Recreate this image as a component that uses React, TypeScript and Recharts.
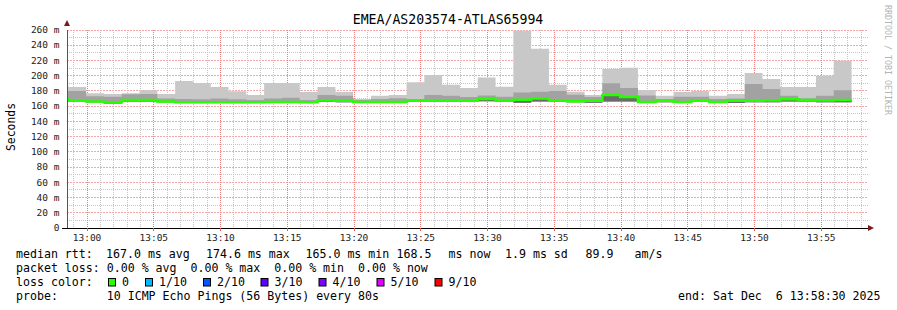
import { ComposedChart, Area, Line, XAxis, YAxis, CartesianGrid } from "recharts";

// one slot per 80 s probe round; the first entry is the cut-off round at the left edge
const maxRtt = [
  192, 185, 177, 176, 177, 181, 176, 193, 190.5, 185, 179.5, 174.5, 190.5, 190.5, 178.5,
  185, 178.5, 169.5, 173.5, 174.5, 191.5, 201, 188, 184, 197.5, 185.5, 259, 235.5, 188,
  179, 174.5, 209, 210.5, 181, 173.5, 178.5, 180, 173.5, 176, 203.5, 195.5, 185, 185, 200,
  219.5,
];
const upperRtt = [
  180, 180, 173, 172.5, 175.5, 176, 170, 169.5, 169, 170, 169, 168, 170, 171, 168,
  174.5, 173.5, 168, 169.5, 170.5, 169.5, 174.5, 173.5, 172, 174, 172.5, 178, 179, 180,
  175, 172, 190, 184, 174, 169.5, 172.5, 172.5, 169.5, 170, 189, 182.5, 173.5, 170.5, 173.5,
  181,
];
const medianRtt = [
  169, 167, 166, 165, 168, 168, 166, 165, 165, 165, 165, 165, 165.5, 165.5, 165,
  167.5, 167, 165.5, 165.5, 165.5, 167, 167, 167, 167, 169.5, 167.5, 168.5, 170, 167.5,
  166.5, 167, 174.5, 172, 165.5, 167, 165.5, 167, 165.5, 167, 167, 167.5, 169, 168, 167.5,
  168,
];
const minRtt = [
  166, 165.5, 165, 163.5, 166, 166, 165, 164, 164, 164, 164, 164, 164.5, 164.5, 164,
  165.5, 165, 165, 164.5, 164.5, 165.5, 165.5, 165.5, 165.5, 166.5, 166, 164.5, 166, 166,
  165, 164.5, 166, 166, 164, 165, 164.5, 165.5, 164.5, 164, 165, 165, 166, 166, 165,
  165,
];

const yTicks = [0, 20, 40, 60, 80, 100, 120, 140, 160, 180, 200, 220, 240, 260];
const yMinor = [10, 30, 50, 70, 90, 110, 130, 150, 170, 190, 210, 230, 250];
const timeLabels = ["13:00", "13:05", "13:10", "13:15", "13:20", "13:25", "13:30", "13:35", "13:40", "13:45", "13:50", "13:55"];

// summary line under the graph, each piece at its own x
const rttSummary = [
  { text: "median rtt:", x: 16 },
  { text: "167.0 ms avg", x: 106 },
  { text: "174.6 ms max", x: 206 },
  { text: "165.0 ms min", x: 305.5 },
  { text: "168.5", x: 396.5 },
  { text: "ms now", x: 448.5 },
  { text: "1.9 ms sd", x: 505 },
  { text: "89.9", x: 585.5 },
  { text: "am/s", x: 634.5 },
];

const lossColors = [
  { label: "0", color: "#26ff00", x: 108.5 },
  { label: "1/10", color: "#00b8ff", x: 145.5 },
  { label: "2/10", color: "#0059ff", x: 203.5 },
  { label: "3/10", color: "#5e00ff", x: 261 },
  { label: "4/10", color: "#7e00ff", x: 319 },
  { label: "5/10", color: "#dd00ff", x: 377 },
  { label: "9/10", color: "#ff0000", x: 435 },
];

// seconds since 12:58:30 (left edge of the graph)
const SPAN = 3600;
const FIRST_ROUND = 6;
const ROUND = 80;
const START_SEC = 12 * 3600 + 58 * 60 + 30;

const slotTime = (i: number) => (i === 0 ? 0 : FIRST_ROUND + (i - 1) * ROUND);

const rows = maxRtt.map((mx, i) => ({
  t: slotTime(i),
  outer: [minRtt[i], mx],
  middle: [minRtt[i], upperRtt[i]],
  inner: [minRtt[i], medianRtt[i]],
  median: medianRtt[i],
}));
const last = rows[rows.length - 1];
rows.push({ ...last, t: slotTime(rows.length) });

const majorX = timeLabels.map((_, i) => 90 + i * 300);
const minuteX = Array.from({ length: 60 }, (_, i) => 30 + i * 60).filter((t) => (t - 90) % 300 !== 0);

const fmtTime = (t: number) => {
  const s = START_SEC + t;
  const h = Math.floor(s / 3600);
  const m = Math.floor((s % 3600) / 60);
  return `${h}:${String(m).padStart(2, "0")}`;
};

const MONO = "'DejaVu Sans Mono', monospace";
const MINOR = "#c6c6c6";
const MAJOR = "#e98080";
const MAJOR_H = "#f3a9a9";

const gridLine = (color: string, dash: string) => (p: any) => (
  <line
    key={`${p.x1}-${p.y1}-${p.x2}-${p.y2}`}
    x1={p.x1}
    x2={p.x2}
    y1={p.y1}
    y2={p.y2}
    stroke={color}
    strokeDasharray={dash}
    shapeRendering="crispEdges"
  />
);

function TimeTick(props: any) {
  const { x, y, payload } = props;
  return (
    <g>
      <line x1={x} x2={x} y1={y} y2={y + 3} stroke="#e06060" shapeRendering="crispEdges" />
      <text x={x} y={y + 12.7} textAnchor="middle" fontFamily={MONO} fontSize={9.5} fill="#222">
        {fmtTime(payload.value)}
      </text>
    </g>
  );
}

function ValueTick(props: any) {
  const { x, y, payload } = props;
  return (
    <text x={x - 7.5} y={y + 3.2} textAnchor="end" fontFamily={MONO} fontSize={9.5} fill="#222">
      {payload.value === 0 ? "0" : `${payload.value} m`}
    </text>
  );
}

const pre = { whiteSpace: "pre" as const };

export default function App() {
  return (
    <div style={{ position: "absolute", left: 0, top: 0, width: 897, height: 310, background: "#fff" }}>
      <ComposedChart
        width={897}
        height={310}
        data={rows}
        margin={{ top: 30, right: 29, bottom: 0, left: 0 }}
      >
        <CartesianGrid
          verticalValues={minuteX}
          horizontalValues={yMinor}
          horizontal={gridLine(MINOR, "1 1")}
          vertical={gridLine(MINOR, "1 1")}
        />
        <CartesianGrid
          verticalValues={majorX}
          horizontalValues={yTicks.slice(1)}
          horizontal={gridLine(MAJOR_H, "2 1")}
          vertical={gridLine(MAJOR, "1 1")}
        />
        <XAxis
          dataKey="t"
          type="number"
          domain={[0, SPAN]}
          ticks={majorX}
          interval={0}
          height={82}
          tickSize={0}
          tickMargin={0}
          tick={<TimeTick />}
          axisLine={{ stroke: "#000", shapeRendering: "crispEdges" }}
          allowDataOverflow
        />
        <YAxis
          type="number"
          domain={[0, 260]}
          ticks={yTicks}
          interval={0}
          width={67}
          tickSize={0}
          tickMargin={0}
          tick={<ValueTick />}
          axisLine={{ stroke: "#555", shapeRendering: "crispEdges" }}
          allowDataOverflow
        />
        <Area dataKey="outer" type="stepAfter" fill="#c8c8c8" fillOpacity={1} stroke="none" isAnimationActive={false} />
        <Area dataKey="middle" type="stepAfter" fill="#a2a2a2" fillOpacity={1} stroke="none" isAnimationActive={false} />
        <Area dataKey="inner" type="stepAfter" fill="#6a6a6a" fillOpacity={1} stroke="none" isAnimationActive={false} />
        <Line dataKey="median" type="stepAfter" stroke="#26ff00" strokeWidth={2.5} dot={false} isAnimationActive={false} />
      </ComposedChart>

      <svg
        width={897}
        height={310}
        style={{ position: "absolute", left: 0, top: 0, pointerEvents: "none" }}
        fontFamily={MONO}
      >
        <text x={448} y={24} textAnchor="middle" fontSize={13.2} fill="#000">
          EMEA/AS203574-ATLAS65994
        </text>
        <text transform="translate(15,127) rotate(-90)" textAnchor="middle" fontSize={11.4} fill="#000">
          Seconds
        </text>
        <text transform="translate(884.5,5) rotate(90)" fontSize={8.3} fill="#b4b4b4">
          RRDTOOL / TOBI OETIKER
        </text>

        <line x1={62} x2={67} y1={228.5} y2={228.5} stroke="#000" />
        <polygon points="64,26 70,26 67,20" fill="#7a1a1a" />
        <polygon points="868,225 868,231 874,228" fill="#7a1a1a" />

        <g fontSize={11.6} fill="#000">
          {rttSummary.map((p) => (
            <text key={p.x} x={p.x} y={258.3} xmlSpace="preserve" style={pre}>
              {p.text}
            </text>
          ))}
          <text x={16} y={272} xmlSpace="preserve" style={pre}>
            {"packet loss: 0.00 % avg  0.00 % max  0.00 % min  0.00 % now"}
          </text>
          <text x={16} y={286}>loss color:</text>
          {lossColors.map((c) => (
            <g key={c.label}>
              <rect x={c.x} y={278.5} width={7} height={7.5} fill={c.color} stroke="#000" strokeWidth={1} />
              <text x={c.x + 13.5} y={286}>
                {c.label}
              </text>
            </g>
          ))}
          <text x={16} y={300} xmlSpace="preserve" style={pre}>
            {"probe:       10 ICMP Echo Pings (56 Bytes) every 80s"}
          </text>
          <text x={880.5} y={300} textAnchor="end" xmlSpace="preserve" style={pre}>
            {"end: Sat Dec  6 13:58:30 2025"}
          </text>
        </g>
      </svg>
    </div>
  );
}
